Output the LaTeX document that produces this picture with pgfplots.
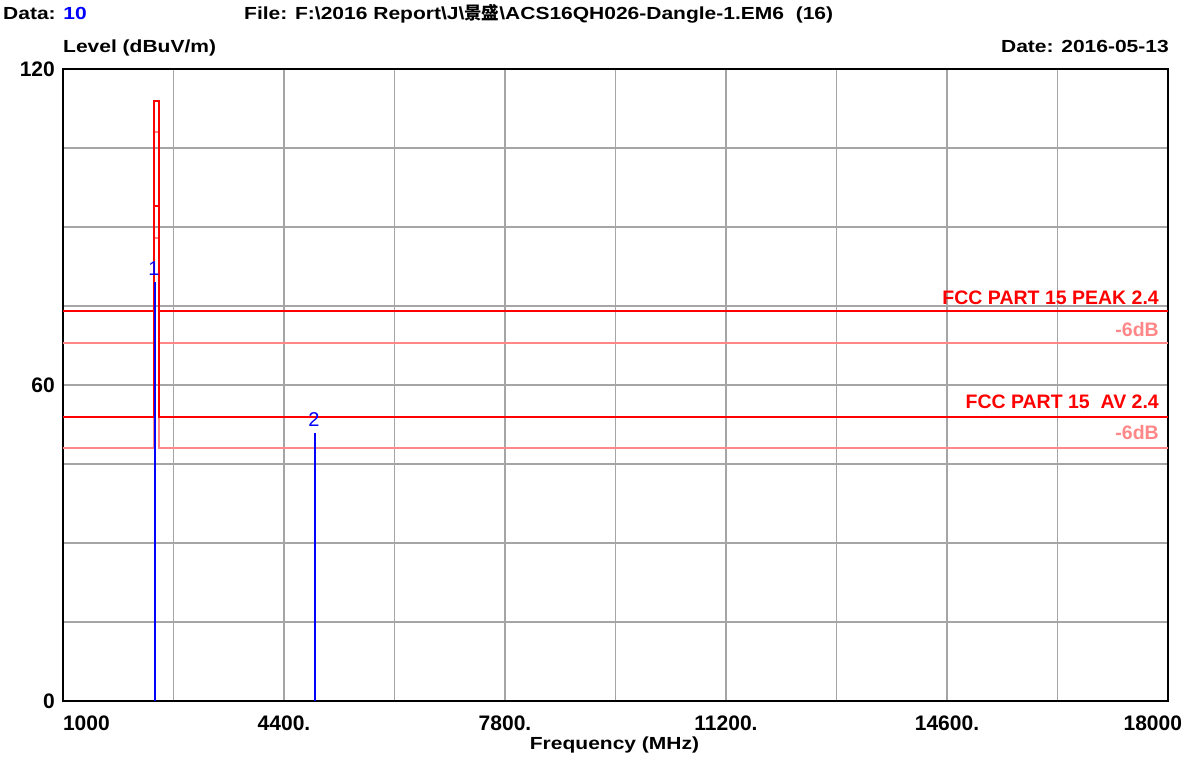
\documentclass[border=0pt]{standalone}
\usepackage{fontspec}
\setmainfont{Liberation Sans}
\newfontfamily\capfont{Liberation Sans}[FakeStretch=1.2]
\newfontfamily\cjk{Noto Sans CJK SC}
\usepackage{pgfplots}
\pgfplotsset{compat=1.18}

\definecolor{limred}{RGB}{255,0,0}
\definecolor{limpale}{RGB}{255,135,135}
\definecolor{mkblue}{RGB}{0,0,255}
\definecolor{gridgray}{RGB}{165,165,165}

\newcommand{\capsize}{\fontsize{17.5pt}{21pt}\selectfont\bfseries}
\newcommand{\limsize}{\fontsize{19.5pt}{23pt}\selectfont\bfseries}

\begin{document}
\begin{tikzpicture}
\useasboundingbox (0,0) rectangle (1195pt,758pt);
\begin{axis}[
    at={(63pt,57pt)}, anchor=south west,
    scale only axis, width=1105pt, height=632pt,
    xmin=1000, xmax=18000, ymin=0, ymax=120,
    scaled x ticks=false, scaled y ticks=false,
    xtick={1000,4400,7800,11200,14600,18000},
    xticklabels={\makebox[0pt][l]{1000},4400.,7800.,11200.,14600.,\makebox[0pt][r]{18000\hspace*{-14pt}}},
    minor xtick={2700,6100,9500,12900,16300},
    ytick={0,60,120}, yticklabels={0,60,120},
    minor ytick={15,30,45,75,90,105},
    major tick length=0pt, minor tick length=0pt,
    grid=both,
    major grid style={gridgray, line width=1.5pt},
    minor grid style={gridgray, line width=1.5pt},
    axis line style={black, line width=2pt},
    ticklabel style={font=\fontsize{21pt}{24pt}\selectfont\bfseries, inner sep=0pt},
    xticklabel style={anchor=north, yshift=-15pt},
    yticklabel style={anchor=east, xshift=-8pt},
    clip=false,
]
% -6dB lines
\addplot[limpale, line width=2pt] coordinates {(1000,68)(2400,68)(2400,108)(2483.5,108)(2483.5,68)(18000,68)};
\addplot[limpale, line width=2pt] coordinates {(1000,48)(2400,48)(2400,88)(2483.5,88)(2483.5,48)(18000,48)};
% limits
\addplot[limred, line width=2pt] coordinates {(1000,74)(2400,74)(2400,114)(2483.5,114)(2483.5,74)(18000,74)};
\addplot[limred, line width=2pt] coordinates {(1000,54)(2400,54)(2400,94)(2483.5,94)(2483.5,54)(18000,54)};
% markers
\addplot[mkblue, line width=1.6pt] coordinates {(2415,0)(2415,79.6)}
    node[pos=1, anchor=south, yshift=5pt, xshift=-1pt, inner sep=0pt, font=\fontsize{20pt}{23pt}\selectfont] {1};
\addplot[mkblue, line width=1.6pt] coordinates {(4877,0)(4877,50.9)}
    node[pos=1, anchor=south, yshift=6pt, xshift=-1pt, inner sep=0pt, font=\fontsize{20pt}{23pt}\selectfont] {2};

\node[anchor=base east, inner sep=0pt, text=limred, font=\limsize] at (axis cs:17862,75.2) {FCC PART 15 PEAK 2.4};
\node[anchor=base east, inner sep=0pt, text=limpale, font=\limsize] at (axis cs:17862,69.2) {-6dB};
\node[anchor=base east, inner sep=0pt, text=limred, font=\limsize] at (axis cs:17862,55.6) {FCC PART 15\ \ AV 2.4};
\node[anchor=base east, inner sep=0pt, text=limpale, font=\limsize] at (axis cs:17862,49.7) {-6dB};
\end{axis}

\node[anchor=base west, inner sep=0pt] at (3pt,738pt) {\capfont\capsize Data: \textcolor{mkblue}{10}};
\node[anchor=base west, inner sep=0pt] at (244pt,738pt) {\capfont\capsize File: F:\textbackslash 2016 Report\textbackslash J\textbackslash{\cjk\bfseries 景盛}\textbackslash ACS16QH026-Dangle-1.EM6\ \ (16)};
\node[anchor=base west, inner sep=0pt] at (63pt,705.3pt) {\capfont\capsize Level (dBuV/m)};
\node[anchor=base east, inner sep=0pt] at (1169pt,705.3pt) {\capfont\capsize Date: 2016-05-13};
\node[anchor=base, inner sep=0pt] at (614.5pt,8.5pt) {\capfont\capsize Frequency (MHz)};
\end{tikzpicture}
\end{document}
